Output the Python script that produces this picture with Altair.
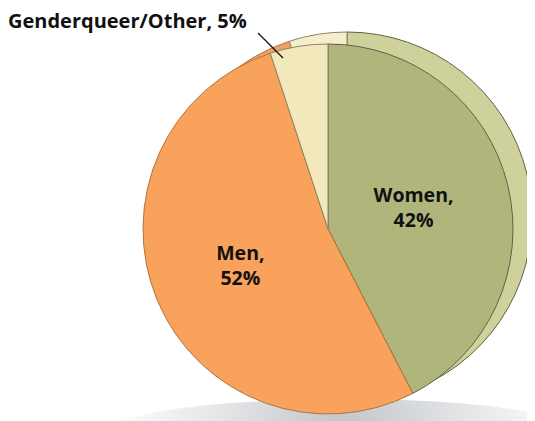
import altair as alt
import pandas as pd

categories = ["Women", "Men", "Genderqueer/Other"]
values = [42, 52, 5]
labels = ["Women,\n42%", "Men,\n52%", "Genderqueer/Other, 5%"]
front_colors = ["#B0B67B", "#F8A25B", "#F2E8BC"]
back_colors = ["#CFD19C", "#EFA062", "#F5EDCC"]
edge_colors = ["#5F6342", "#B07540", "#8A8560"]

df = pd.DataFrame({"cat": categories, "value": values, "label": labels, "idx": list(range(len(categories)))})

FONT = "Open Sans"
CX, CY, R = 320, 221, 185
BX, BY = 339, 209

def pie(colors, cx, cy, r, fld):
    d = df.assign(**{fld: df["cat"]})
    return alt.Chart(d).mark_arc(radius=r, strokeWidth=1).encode(
        theta=alt.Theta("value:Q", stack=True),
        order=alt.Order("idx:Q"),
        color=alt.Color(f"{fld}:N", scale=alt.Scale(domain=categories, range=colors), legend=None),
        stroke=alt.Stroke(f"{fld}:N", scale=alt.Scale(domain=categories, range=edge_colors), legend=None),
        x=alt.value(cx), y=alt.value(cy),
    )

shadow = alt.Chart(alt.Data(values=[{"a": 1}])).mark_point(
    shape="M-1,0A1,0.14,0,1,0,1,0A1,0.14,0,1,0,-1,0Z",
    size=470 ** 2, filled=True, strokeWidth=0, opacity=1,
    fill=alt.Gradient(gradient="radial",
                      stops=[alt.GradientStop(color="#c2c5c9", offset=0),
                             alt.GradientStop(color="#e2e4e6", offset=0.5),
                             alt.GradientStop(color="#ffffff", offset=1)],
                      x1=0.5, y1=0.5, r1=0, x2=0.5, y2=0.5, r2=0.5),
).encode(x=alt.value(335), y=alt.value(424))

back = pie(back_colors, BX, BY, R, "cat_back")
front = pie(front_colors, CX, CY, R, "cat_front")

def inner_label(cat, rad):
    return alt.Chart(df).transform_joinaggregate(
        total="sum(value)"
    ).transform_window(
        cum="sum(value)", sort=[alt.SortField("idx")]
    ).transform_calculate(
        mid="(datum.cum - datum.value / 2) / datum.total * 2 * PI"
    ).transform_filter(
        alt.FieldEqualPredicate(field="cat", equal=cat)
    ).transform_calculate(
        xx=f"{CX} + {rad} * sin(datum.mid)",
        yy=f"{CY} - {rad} * cos(datum.mid) - 12",
    ).mark_text(font=FONT, fontWeight="bold", fontSize=19.5, lineBreak="\n",
                color="#111111", lineHeight=25, baseline="middle").encode(
        text="label:N",
        x=alt.X("xx:Q", scale=None),
        y=alt.Y("yy:Q", scale=None),
    )

gq_rule = alt.Chart(alt.Data(values=[{"a": 1}])).mark_rule(color="#111111", strokeWidth=1.2).encode(
    x=alt.value(250), y=alt.value(25), x2=alt.value(275), y2=alt.value(50)
)

gq_text = alt.Chart(df).transform_filter(
    alt.FieldEqualPredicate(field="cat", equal="Genderqueer/Other")
).mark_text(font=FONT, fontWeight="bold", fontSize=20, color="#111111", align="left", baseline="middle").encode(
    text="label:N", x=alt.value(0), y=alt.value(14)
)

chart = alt.layer(
    shadow, back, front, inner_label("Women", 88), inner_label("Men", 95), gq_rule, gq_text
).resolve_scale(color="independent", stroke="independent").properties(
    width=519, height=413, padding=0,
    autosize=alt.AutoSizeParams(type="fit", contains="padding"),
).configure_view(stroke=None)

chart.save("out.html", embed_options={"renderer": "svg", "actions": False})
